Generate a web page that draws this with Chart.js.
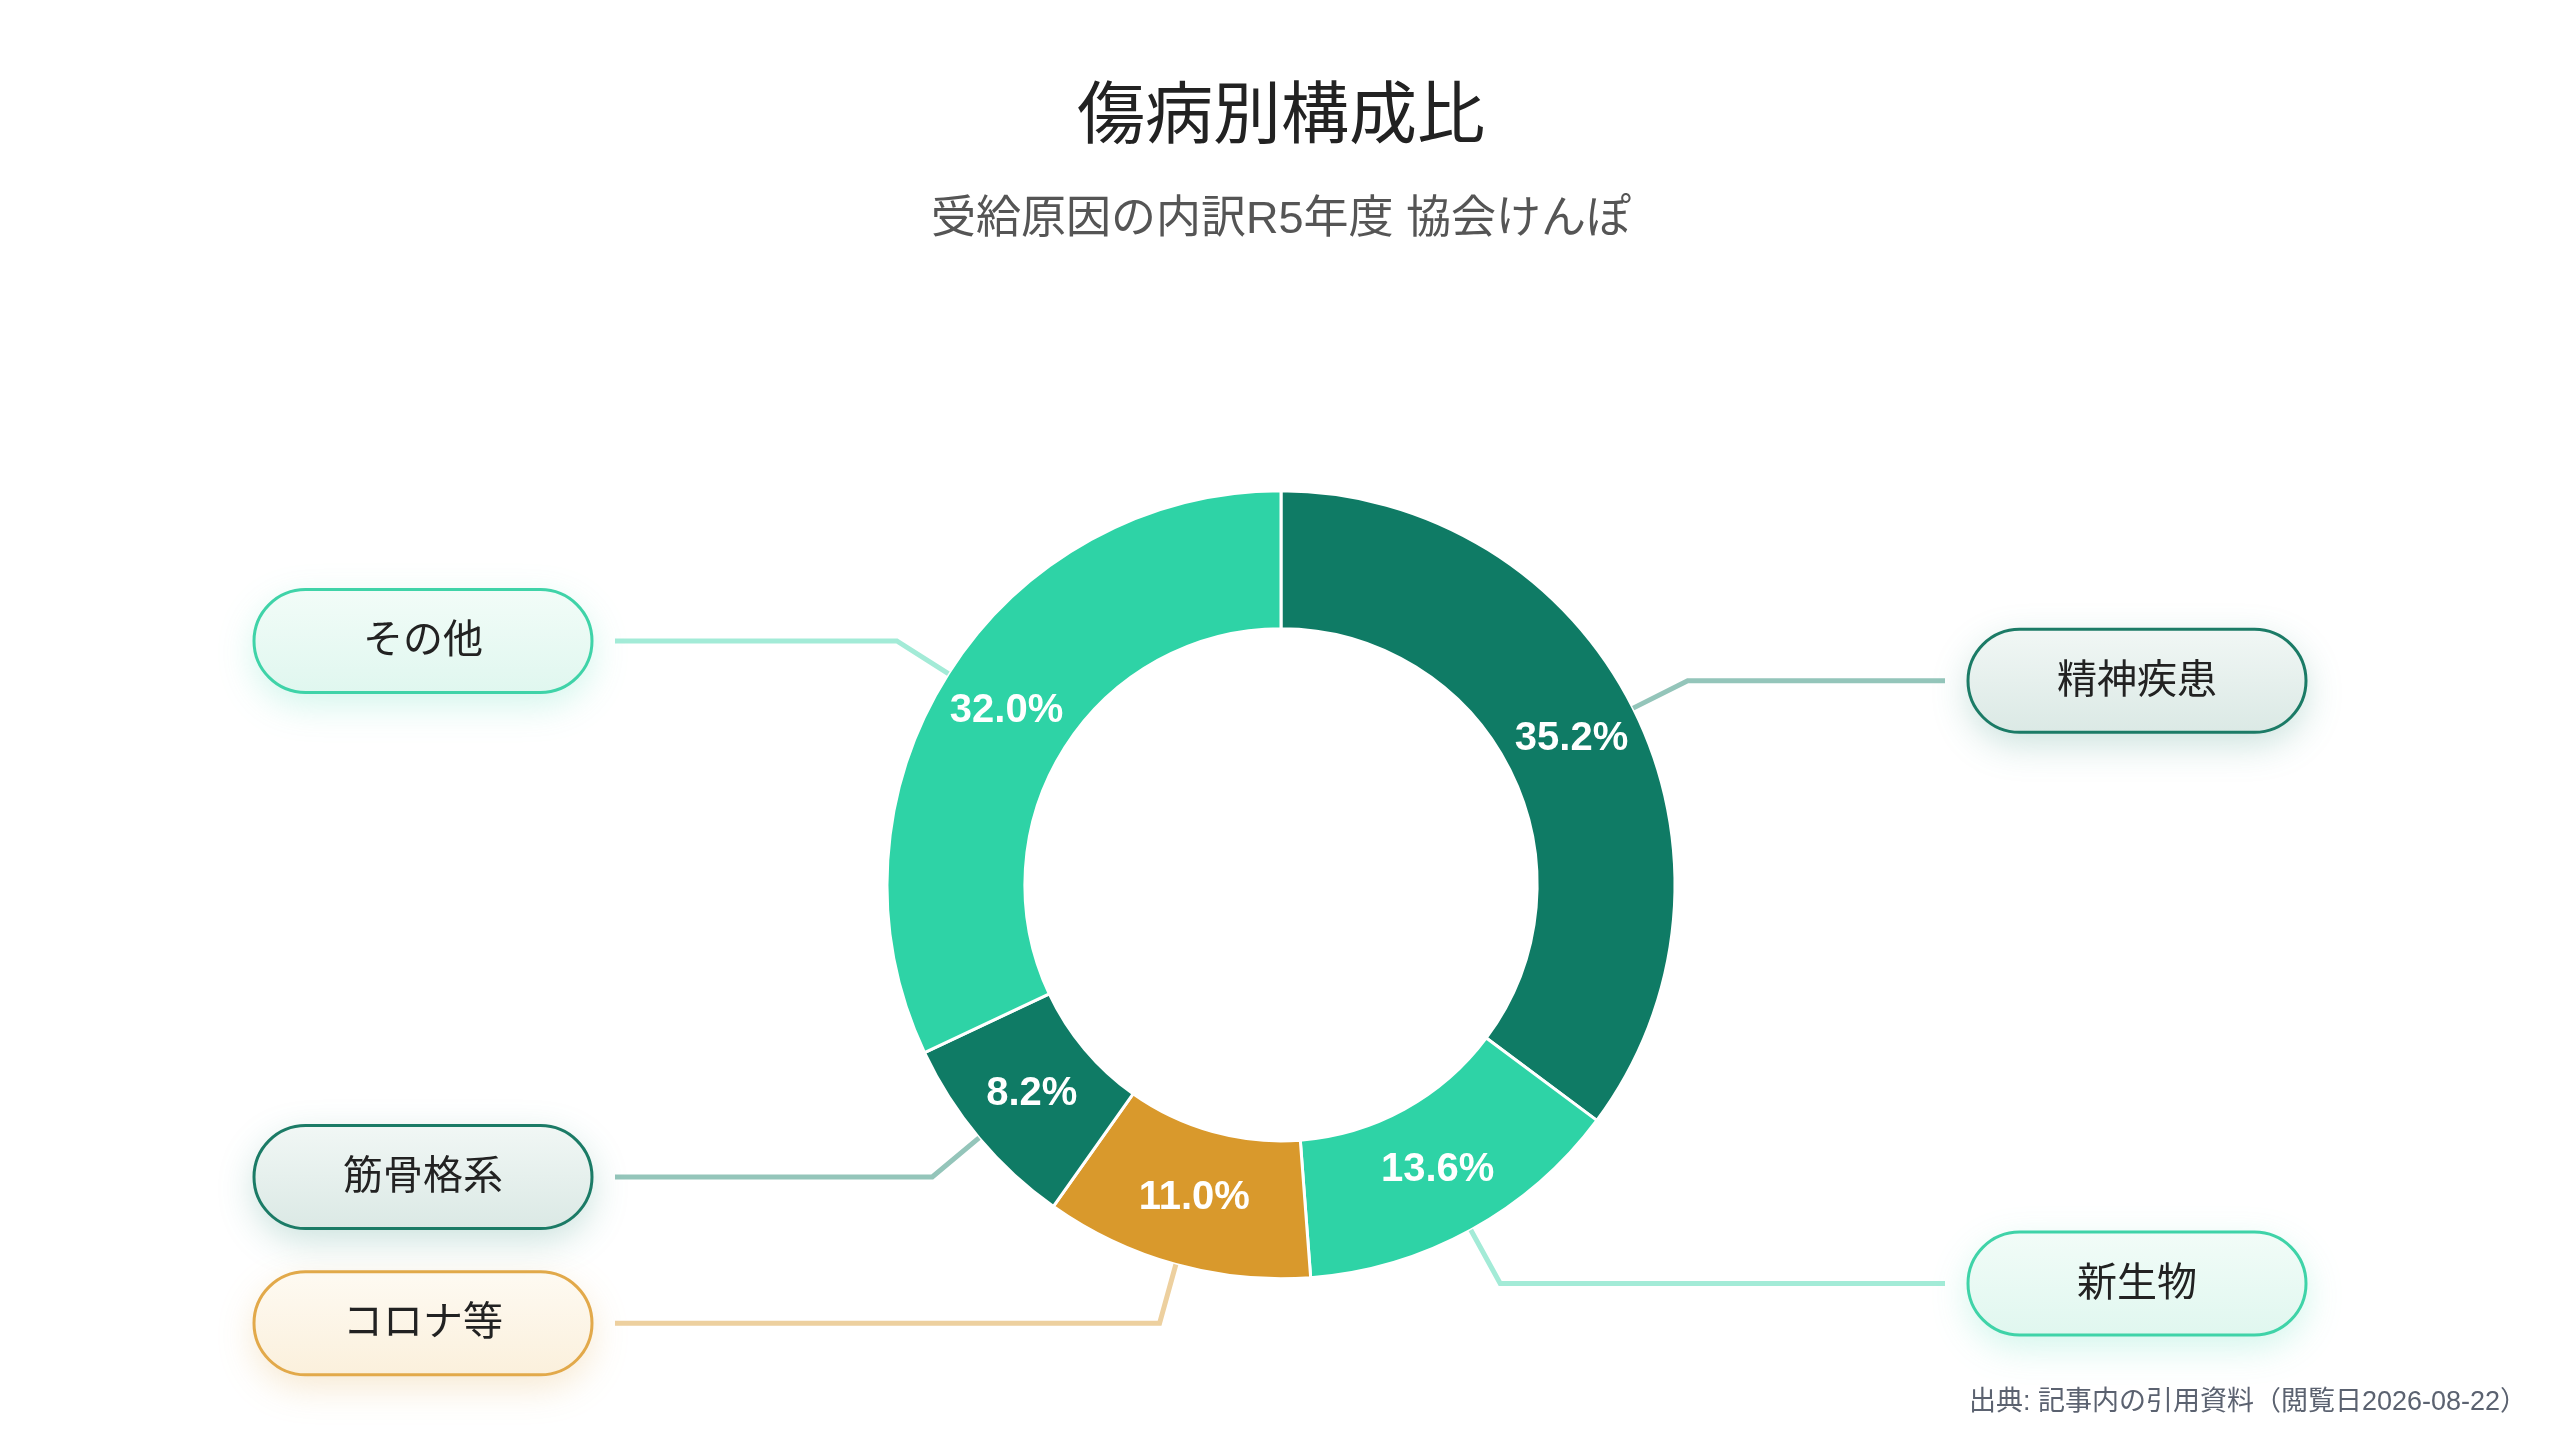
<!DOCTYPE html>
<html lang="ja">
<head>
<meta charset="utf-8">
<title>傷病別構成比</title>
<script src="https://cdn.jsdelivr.net/npm/chart.js@4.4.1/dist/chart.umd.min.js"></script>
<style>
  html, body { margin: 0; padding: 0; background: #fff; }
  #wrap { width: 2560px; height: 1440px; position: relative; }
</style>
</head>
<body>
<div id="wrap"><canvas id="donut" width="2560" height="1440"></canvas></div>
<script>
// data (clockwise from 12 o'clock)
const categories = ['精神疾患', '新生物', 'コロナ等', '筋骨格系', 'その他'];
const shares = [35.2, 13.6, 11.0, 8.2, 32.0];
const titleText = '傷病別構成比';
const subtitleText = '受給原因の内訳R5年度 協会けんぽ';
const sourceNote = '出典: 記事内の引用資料（閲覧日2026-08-22）';

// styling
const sliceColors = ['#0f7b65', '#2ed3a6', '#d9992c', '#0f7b65', '#2ed3a6'];
const lineColors = ['#94c5ba', '#a3ebd7', '#edd09f', '#94c5ba', '#a3ebd7'];
const pillBorders = ['#1b7b66', '#3fd3a8', '#e2a94a', '#1b7b66', '#3fd3a8'];
const pillFills = [
  ['#f1f7f5', '#dbe9e5'],
  ['#f2fcf8', '#e0f7ef'],
  ['#fefaf2', '#fbf0dc'],
  ['#f1f7f5', '#dbe9e5'],
  ['#f2fcf8', '#e0f7ef']
];
const glowColors = ['rgba(15,123,101,0.22)', 'rgba(46,211,166,0.22)', 'rgba(217,153,44,0.22)',
                    'rgba(15,123,101,0.22)', 'rgba(46,211,166,0.22)'];
const FONT = '"Liberation Sans", "Noto Sans CJK JP", sans-serif';

function roundPill(ctx, x, y, w, h) {
  const r = h / 2;
  ctx.beginPath();
  ctx.moveTo(x + r, y);
  ctx.lineTo(x + w - r, y);
  ctx.arc(x + w - r, y + r, r, -Math.PI / 2, Math.PI / 2);
  ctx.lineTo(x + r, y + h);
  ctx.arc(x + r, y + r, r, Math.PI / 2, Math.PI * 1.5);
  ctx.closePath();
}

// leader lines, pills and percentage labels
const calloutPlugin = {
  id: 'callouts',
  afterDatasetsDraw(chart) {
    const ctx = chart.ctx;
    const meta = chart.getDatasetMeta(0);
    meta.data.forEach((arc, i) => {
      const p = arc.getProps(['x', 'y', 'startAngle', 'endAngle', 'outerRadius'], true);
      const mid = (p.startAngle + p.endAngle) / 2;
      const c = Math.cos(mid), s = Math.sin(mid);
      const x0 = p.x + c * p.outerRadius, y0 = p.y + s * p.outerRadius;
      const x1 = p.x + c * (p.outerRadius + 61), y1 = p.y + s * (p.outerRadius + 61);
      const left = c < 0;
      const x2 = left ? p.x - 666 : p.x + 664;

      ctx.save();
      ctx.strokeStyle = lineColors[i];
      ctx.lineWidth = 5;
      ctx.lineJoin = 'miter';
      ctx.beginPath();
      ctx.moveTo(x0, y0);
      ctx.lineTo(x1, y1);
      ctx.lineTo(x2, y1);
      ctx.stroke();

      // pill
      const pw = 338, ph = 103;
      const px = left ? p.x - 1027 : p.x + 687;
      const py = y1 - ph / 2;
      ctx.shadowColor = glowColors[i];
      ctx.shadowBlur = 36;
      ctx.shadowOffsetY = 12;
      const g = ctx.createLinearGradient(0, py, 0, py + ph);
      g.addColorStop(0, pillFills[i][0]);
      g.addColorStop(1, pillFills[i][1]);
      roundPill(ctx, px, py, pw, ph);
      ctx.fillStyle = g;
      ctx.fill();
      ctx.shadowColor = 'transparent';
      ctx.lineWidth = 3;
      ctx.strokeStyle = pillBorders[i];
      ctx.stroke();

      ctx.fillStyle = '#222';
      ctx.font = '40px ' + FONT;
      ctx.textAlign = 'center';
      ctx.textBaseline = 'middle';
      ctx.fillText(categories[i], px + pw / 2, y1 + 1);
      ctx.restore();

      // percentage inside the ring
      const cp = arc.getCenterPoint(true);
      ctx.save();
      ctx.fillStyle = '#fff';
      ctx.font = 'bold 40px ' + FONT;
      ctx.textAlign = 'center';
      ctx.textBaseline = 'middle';
      ctx.fillText(shares[i].toFixed(1) + '%', cp.x, cp.y);
      ctx.restore();
    });

    ctx.save();
    ctx.fillStyle = '#5b6270';
    ctx.font = '27px ' + FONT;
    ctx.textAlign = 'right';
    ctx.textBaseline = 'middle';
    ctx.fillText(sourceNote, 2527, 1403);
    ctx.restore();
  }
};

new Chart(document.getElementById('donut').getContext('2d'), {
  type: 'doughnut',
  data: {
    labels: categories,
    datasets: [{
      data: shares,
      backgroundColor: sliceColors,
      borderColor: '#ffffff',
      borderWidth: 3,
      hoverOffset: 0
    }]
  },
  options: {
    responsive: false,
    devicePixelRatio: 1,
    animation: false,
    radius: 394,
    cutout: '65%',
    layout: { padding: { left: 2, right: 0, top: 0, bottom: 70 } },
    plugins: {
      legend: { display: false },
      tooltip: { enabled: false },
      title: {
        display: true,
        text: titleText,
        color: '#222',
        font: { family: FONT, size: 68, weight: 'normal' },
        padding: { top: 78, bottom: 0 }
      },
      subtitle: {
        display: true,
        text: subtitleText,
        color: '#555',
        font: { family: FONT, size: 45, weight: 'normal' },
        padding: { top: 34, bottom: 152 }
      }
    }
  },
  plugins: [calloutPlugin]
});
</script>
</body>
</html>
